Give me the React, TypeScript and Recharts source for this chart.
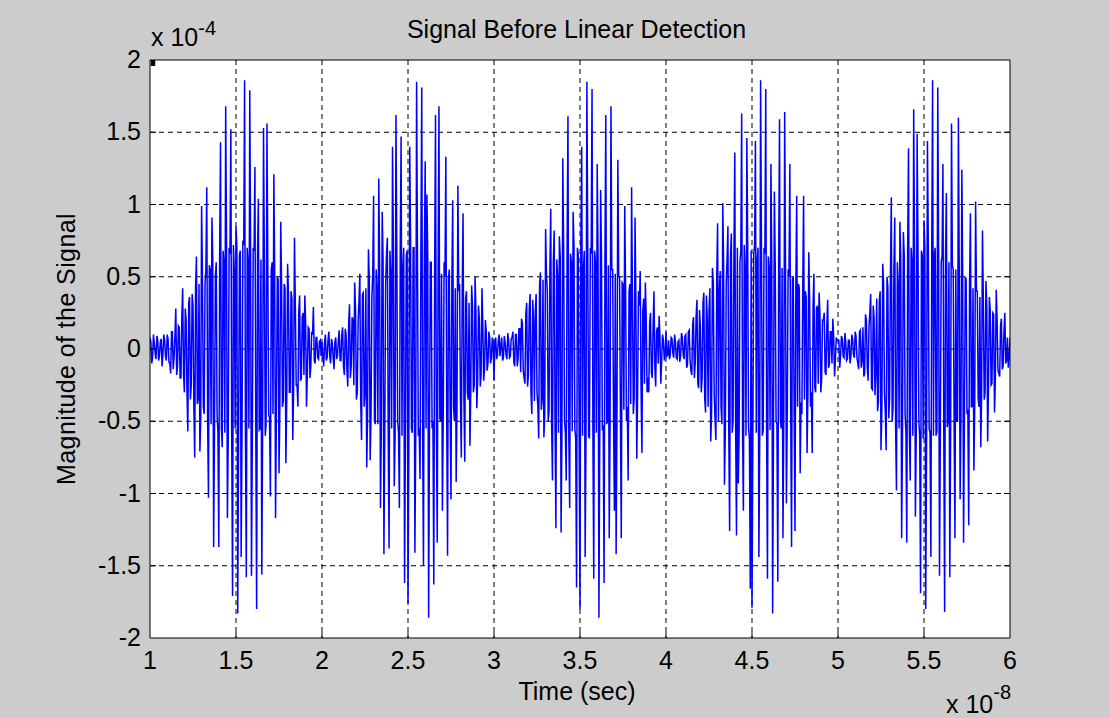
import React from 'react';
import { LineChart, Line, XAxis, YAxis, CartesianGrid } from 'recharts';

// Time axis in units of 1e-8 s, magnitude in units of 1e-4
const startTime = 1;
const sampleStep = 0.01;

// Main samples (spikes), one per sampleStep
const burst1 = [
  0.08, -0.10, 0.10, -0.03, 0.09, -0.08, 0.05, -0.12, 0.10, -0.05,
  0.10, -0.09, -0.17, 0.12, -0.06, 0.28, -0.12, 0.15, -0.20, 0.42,
  -0.30, 0.20, -0.57, 0.36, -0.25, 0.30, -0.75, 0.64, -0.35, -0.71,
  0.99, -0.40, 0.45, 1.12, -1.03, 0.55, 0.91, -1.37, 0.50, -0.45,
  -1.37, 1.43, -0.68, 0.60, 1.68, -1.17, 0.70, 1.52, -1.71, 0.55,
  0.85, -1.83, 0.65, -1.44, 0.75, 1.86, -1.58, 0.60, 1.79, -1.57,
  0.70, 1.26, -1.80, 1.04, -0.55, -1.56, 1.53, -0.60, 1.56, -0.45,
  -1.02, 0.60, 1.21, -1.17, 0.50, -0.86, 0.88, -0.40, 0.45, -0.79,
  0.59, -0.30, 0.40, -0.63, 0.77, -0.25, -0.40, 0.37, -0.20, 0.25,
  0.37, -0.40, 0.15, -0.20, 0.12, 0.29, -0.10, 0.08, -0.07, 0.06,
];

const burst2 = [
  0.05, -0.12, 0.10, -0.06, 0.12, -0.10, 0.04, -0.14, 0.08, -0.05,
  0.13, -0.08, 0.15, -0.18, 0.10, -0.26, 0.31, -0.12, 0.20, 0.46,
  -0.35, 0.18, 0.52, -0.63, 0.39, -0.30, -0.82, 0.69, -0.77, 0.35,
  1.06, -0.52, 0.40, 1.18, -1.10, 0.95, -1.42, 0.45, 0.77, -1.38,
  0.50, 1.40, -0.95, 1.62, -0.50, -1.10, 1.47, 0.55, -1.62, 0.65,
  -1.76, 1.40, -0.55, 0.70, -1.41, 1.85, -0.60, -0.90, 1.81, -1.50,
  1.30, 1.07, -1.86, 0.60, -0.55, -1.63, 1.62, -1.34, 1.68, -0.50,
  -1.12, 0.60, 1.33, -1.43, 0.55, -1.04, 1.03, -0.50, -0.92, 1.13,
  0.45, -0.75, 0.94, -0.78, 0.40, -0.35, -0.67, 0.44, -0.30, 0.50,
  -0.41, 0.30, -0.26, 0.42, -0.22, 0.20, -0.15, 0.12, -0.10, 0.08,
];

const burst3 = [
  -0.22, 0.08, -0.05, 0.10, 0.02, -0.08, 0.09, -0.04, 0.11, -0.06,
  0.07, 0.12, -0.12, 0.10, -0.07, 0.14, 0.21, -0.15, -0.24, 0.32,
  -0.18, 0.38, -0.45, 0.20, 0.26, -0.30, -0.62, 0.53, -0.35, -0.61,
  0.83, 0.40, -0.43, 0.97, -0.91, 0.82, -1.24, 0.50, 0.78, -1.27,
  1.32, -0.50, -0.91, 1.61, -1.10, 0.60, 0.95, -0.55, -1.65, 0.65,
  -1.80, 1.40, 0.55, -1.44, 1.85, -0.60, 0.70, 1.80, -1.59, 0.60,
  1.28, -1.86, 1.10, -0.55, -1.62, 1.62, -0.50, -1.31, 1.68, 0.55,
  -1.12, -1.42, 1.31, 0.50, -1.31, 0.45, 0.99, -0.50, -0.91, 0.45,
  1.12, -0.45, 0.91, -0.76, 0.40, 0.54, -0.72, 0.35, 0.46, -0.30,
  -0.30, 0.25, -0.20, 0.40, -0.26, 0.15, 0.23, -0.24, 0.10, -0.08,
];

const burst4 = [
  0.12, -0.04, -0.07, 0.08, -0.03, 0.10, -0.06, 0.05, -0.09, 0.11,
  -0.04, 0.09, -0.13, 0.12, -0.08, -0.18, 0.22, -0.10, 0.34, -0.27,
  0.15, -0.20, 0.39, -0.44, 0.20, 0.26, -0.64, 0.56, -0.30, -0.63,
  0.87, 0.40, -0.40, 1.01, -0.94, 0.45, 0.85, -1.26, 0.80, -0.50,
  1.36, -1.29, -0.93, 0.60, 1.63, -1.12, 0.55, 1.46, -0.55, -1.66,
  -1.79, 0.65, 1.44, 0.60, -1.44, 1.86, -0.60, 0.70, 1.80, -1.59,
  0.55, 1.28, -1.83, 1.09, -0.50, -1.61, 1.59, -0.55, -1.31, 1.64,
  -1.07, 0.55, 1.28, -1.37, 0.50, -1.26, 1.06, 0.45, -0.86, -0.45,
  1.06, 0.40, -0.72, 0.67, -0.40, -0.72, 0.52, -0.30, 0.30, 0.39,
  -0.30, 0.20, 0.25, -0.18, 0.34, -0.10, 0.12, 0.21, -0.19, 0.08,
];

const burst5 = [
  0.06, -0.13, 0.09, -0.05, 0.11, -0.08, 0.06, -0.10, 0.10, -0.04,
  0.12, -0.06, -0.14, 0.13, -0.08, -0.19, 0.24, -0.12, 0.15, 0.38,
  -0.28, 0.21, -0.15, -0.43, 0.33, -0.70, 0.59, -0.30, -0.70, 0.43,
  -0.35, 1.05, -0.40, 0.91, -0.98, 0.45, 0.88, -1.31, 0.81, -0.45,
  -1.34, 1.39, -0.91, 0.60, 1.66, -1.16, 1.49, -0.50, -1.69, 0.65,
  0.89, -1.80, 1.44, -0.55, -1.44, 1.86, 0.65, -0.60, 1.81, -1.57,
  0.60, 1.28, -1.82, 1.08, -0.50, -1.58, 1.56, 0.55, -1.31, -0.50,
  1.60, -1.04, 1.24, -1.34, 0.50, -0.45, -1.22, 0.94, -0.40, -0.84,
  1.02, 0.40, -0.40, -0.68, 0.82, -0.35, 0.47, -0.64, 0.36, -0.25,
  0.25, -0.44, 0.41, -0.15, -0.19, 0.21, -0.12, 0.25, -0.08, -0.13,
  0.08,
];

// In-between samples (the dense inner band), half a step after each main sample
const band1 = [
  0.05, -0.06, 0.04, -0.07, 0.06, -0.05, 0.07, -0.04, 0.06, -0.08,
  0.07, -0.10, 0.12, -0.14, 0.10, -0.18, 0.16, -0.20, 0.22, -0.18,
  0.28, -0.30, 0.32, -0.35, 0.38, -0.40, 0.42, -0.38, 0.45, -0.48,
  0.50, -0.45, 0.55, -0.50, 0.58, -0.52, 0.62, -0.55, 0.60, -0.58,
  0.65, -0.55, 0.68, -0.58, 0.70, -0.60, 0.66, -0.57, 0.72, -0.55,
  0.70, -0.60, 0.68, -0.56, 0.72, -0.58, 0.70, -0.55, 0.66, -0.60,
  0.68, -0.54, 0.64, -0.56, 0.62, -0.50, 0.60, -0.52, 0.58, -0.48,
  0.55, -0.45, 0.52, -0.42, 0.48, -0.40, 0.45, -0.36, 0.42, -0.34,
  0.38, -0.30, 0.35, -0.28, 0.30, -0.25, 0.26, -0.22, 0.22, -0.18,
  0.18, -0.15, 0.14, -0.12, 0.10, -0.08, 0.08, -0.06, 0.05, -0.05,
];

const band2 = [
  -0.06, 0.05, -0.08, 0.06, -0.05, 0.07, -0.06, 0.05, -0.07, 0.06,
  -0.08, 0.10, -0.12, 0.14, -0.15, 0.18, -0.20, 0.22, -0.25, 0.28,
  -0.30, 0.33, -0.36, 0.38, -0.40, 0.42, -0.45, 0.48, -0.46, 0.52,
  -0.50, 0.55, -0.52, 0.60, -0.55, 0.62, -0.56, 0.65, -0.58, 0.68,
  -0.55, 0.70, -0.60, 0.66, -0.58, 0.72, -0.60, 0.70, -0.56, 0.68,
  -0.62, 0.72, -0.58, 0.70, -0.60, 0.66, -0.55, 0.68, -0.58, 0.64,
  -0.55, 0.62, -0.52, 0.60, -0.50, 0.58, -0.52, 0.55, -0.48, 0.52,
  -0.45, 0.50, -0.44, 0.48, -0.42, 0.45, -0.40, 0.42, -0.38, 0.40,
  -0.36, 0.38, -0.33, 0.35, -0.30, 0.32, -0.28, 0.30, -0.25, 0.26,
  -0.22, 0.20, -0.18, 0.16, -0.14, 0.12, -0.10, 0.08, -0.06, 0.05,
];

const band3 = [
  0.05, -0.07, 0.06, -0.05, 0.08, -0.06, 0.04, -0.07, 0.06, -0.05,
  0.08, -0.09, 0.10, -0.12, 0.14, -0.16, 0.18, -0.20, 0.24, -0.26,
  0.28, -0.30, 0.34, -0.36, 0.38, -0.40, 0.44, -0.42, 0.48, -0.46,
  0.52, -0.50, 0.55, -0.52, 0.60, -0.55, 0.62, -0.58, 0.64, -0.56,
  0.68, -0.58, 0.70, -0.60, 0.66, -0.57, 0.72, -0.62, 0.70, -0.58,
  0.72, -0.60, 0.68, -0.58, 0.70, -0.62, 0.66, -0.56, 0.68, -0.58,
  0.64, -0.55, 0.62, -0.54, 0.60, -0.52, 0.58, -0.50, 0.55, -0.48,
  0.52, -0.46, 0.50, -0.44, 0.46, -0.42, 0.44, -0.40, 0.40, -0.38,
  0.36, -0.34, 0.34, -0.30, 0.30, -0.28, 0.26, -0.24, 0.22, -0.20,
  0.18, -0.16, 0.15, -0.12, 0.12, -0.10, 0.08, -0.07, 0.06, -0.05,
];

const band4 = [
  -0.05, 0.06, -0.04, 0.07, -0.06, 0.05, -0.07, 0.06, -0.05, 0.08,
  -0.07, 0.10, -0.11, 0.13, -0.15, 0.17, -0.20, 0.22, -0.24, 0.27,
  -0.30, 0.32, -0.34, 0.37, -0.40, 0.42, -0.44, 0.46, -0.48, 0.50,
  -0.50, 0.54, -0.52, 0.58, -0.55, 0.62, -0.56, 0.64, -0.58, 0.66,
  -0.58, 0.70, -0.60, 0.68, -0.57, 0.72, -0.60, 0.70, -0.62, 0.68,
  -0.60, 0.72, -0.58, 0.70, -0.60, 0.68, -0.56, 0.66, -0.58, 0.64,
  -0.56, 0.62, -0.54, 0.60, -0.52, 0.58, -0.50, 0.56, -0.48, 0.54,
  -0.46, 0.50, -0.44, 0.48, -0.42, 0.45, -0.40, 0.42, -0.37, 0.40,
  -0.35, 0.36, -0.32, 0.34, -0.30, 0.30, -0.27, 0.28, -0.24, 0.24,
  -0.20, 0.20, -0.16, 0.15, -0.13, 0.12, -0.10, 0.08, -0.07, 0.06,
];

const band5 = [
  0.06, -0.05, 0.07, -0.06, 0.05, -0.07, 0.06, -0.05, 0.07, -0.06,
  0.09, -0.10, 0.12, -0.13, 0.15, -0.17, 0.20, -0.22, 0.25, -0.27,
  0.30, -0.32, 0.35, -0.36, 0.40, -0.42, 0.45, -0.44, 0.50, -0.48,
  0.52, -0.50, 0.56, -0.54, 0.60, -0.55, 0.62, -0.56, 0.65, -0.58,
  0.68, -0.58, 0.70, -0.60, 0.70, -0.58, 0.72, -0.60, 0.68, -0.62,
  0.70, -0.60, 0.72, -0.58, 0.68, -0.60, 0.70, -0.57, 0.66, -0.58,
  0.64, -0.56, 0.62, -0.54, 0.60, -0.52, 0.58, -0.50, 0.55, -0.50,
  0.52, -0.47, 0.50, -0.45, 0.48, -0.42, 0.45, -0.40, 0.42, -0.38,
  0.40, -0.35, 0.36, -0.32, 0.33, -0.30, 0.30, -0.27, 0.27, -0.24,
  0.24, -0.20, 0.20, -0.17, 0.16, -0.14, 0.12, -0.10, 0.08, -0.07,
];

const xTicks = [1, 1.5, 2, 2.5, 3, 3.5, 4, 4.5, 5, 5.5, 6];
const yTicks = [-2, -1.5, -1, -0.5, 0, 0.5, 1, 1.5, 2];
const xGrid = [1.5, 2, 2.5, 3, 3.5, 4, 4.5, 5, 5.5];
const yGrid = [-1.5, -1, -0.5, 0, 0.5, 1, 1.5];
const xDomain = [1, 6];
const yDomain = [-2, 2];

const title = 'Signal Before Linear Detection';
const xLabel = 'Time (sec)';
const yLabel = 'Magnitude of the Signal';
const xExponent = '-8';
const yExponent = '-4';

const mainSamples = [...burst1, ...burst2, ...burst3, ...burst4, ...burst5];
const bandSamples = [...band1, ...band2, ...band3, ...band4, ...band5];

const data: { t: number; v: number }[] = [];
mainSamples.forEach((v, i) => {
  const t = startTime + i * sampleStep;
  data.push({ t: Number(t.toFixed(4)), v });
  if (i < bandSamples.length) {
    data.push({ t: Number((t + sampleStep / 2).toFixed(4)), v: bandSamples[i] });
  }
});

const FONT = '"Liberation Sans", Arial, Helvetica, sans-serif';
const TICK_LEN = 6;
const FS = 25;

const isXEnd = (v: number) => v === xDomain[0] || v === xDomain[1];
const isYEnd = (v: number) => v === yDomain[0] || v === yDomain[1];

const renderBottomTick = (props: any) => {
  const { x, y, payload } = props;
  return (
    <g key={`b-${payload.value}`}>
      {!isXEnd(payload.value) && (
        <line x1={x} x2={x} y1={y} y2={y - TICK_LEN} stroke="#000" strokeWidth={1} />
      )}
      <text x={x} y={y + 31} textAnchor="middle" fontSize={FS} fontFamily={FONT} fill="#000">
        {String(payload.value)}
      </text>
    </g>
  );
};

const renderTopTick = (props: any) => {
  const { x, y, payload } = props;
  if (isXEnd(payload.value)) return <g key={`t-${payload.value}`} />;
  return (
    <line
      key={`t-${payload.value}`}
      x1={x}
      x2={x}
      y1={y}
      y2={y + TICK_LEN}
      stroke="#000"
      strokeWidth={1}
    />
  );
};

const renderLeftTick = (props: any) => {
  const { x, y, payload } = props;
  return (
    <g key={`l-${payload.value}`}>
      {!isYEnd(payload.value) && (
        <line x1={x} x2={x + TICK_LEN} y1={y} y2={y} stroke="#000" strokeWidth={1} />
      )}
      <text x={x - 9} y={y + 8} textAnchor="end" fontSize={FS} fontFamily={FONT} fill="#000">
        {String(payload.value)}
      </text>
    </g>
  );
};

const renderRightTick = (props: any) => {
  const { x, y, payload } = props;
  if (isYEnd(payload.value)) return <g key={`r-${payload.value}`} />;
  return (
    <line
      key={`r-${payload.value}`}
      x1={x}
      x2={x - TICK_LEN}
      y1={y}
      y2={y}
      stroke="#000"
      strokeWidth={1}
    />
  );
};

export default function App() {
  return (
    <div
      style={{
        position: 'absolute',
        left: 0,
        top: 0,
        width: 1110,
        height: 718,
        background: '#cccccc',
        overflow: 'hidden',
      }}
    >
      <LineChart
        width={1110}
        height={718}
        data={data}
        accessibilityLayer={false}
        margin={{ top: 50, right: 90, bottom: 50, left: 110 }}
      >
        <CartesianGrid horizontal={false} vertical={false} fill="#ffffff" fillOpacity={1} />
        <XAxis
          dataKey="t"
          type="number"
          domain={xDomain}
          ticks={xTicks}
          interval={0}
          allowDataOverflow
          height={30}
          tickSize={0}
          tickMargin={0}
          tickLine={false}
          axisLine={{ stroke: '#000', strokeWidth: 1 }}
          tick={renderBottomTick}
        />
        <XAxis
          xAxisId="top"
          orientation="top"
          type="number"
          domain={xDomain}
          ticks={xTicks}
          interval={0}
          allowDataOverflow
          height={10}
          tickSize={0}
          tickMargin={0}
          tickLine={false}
          axisLine={{ stroke: '#000', strokeWidth: 1 }}
          tick={renderTopTick}
        />
        <YAxis
          type="number"
          domain={yDomain}
          ticks={yTicks}
          interval={0}
          allowDataOverflow
          width={40}
          tickSize={0}
          tickMargin={0}
          tickLine={false}
          axisLine={{ stroke: '#000', strokeWidth: 1 }}
          tick={renderLeftTick}
        />
        <YAxis
          yAxisId="right"
          orientation="right"
          type="number"
          domain={yDomain}
          ticks={yTicks}
          interval={0}
          allowDataOverflow
          width={10}
          tickSize={0}
          tickMargin={0}
          tickLine={false}
          axisLine={{ stroke: '#000', strokeWidth: 1 }}
          tick={renderRightTick}
        />
        <Line
          type="linear"
          dataKey="v"
          stroke="#0000ff"
          strokeWidth={1.5}
          dot={false}
          activeDot={false}
          isAnimationActive={false}
        />
        <CartesianGrid
          stroke="#000000"
          strokeDasharray="5 4"
          strokeWidth={1}
          fill="none"
          horizontalValues={yGrid}
          verticalValues={xGrid}
        />
      </LineChart>
      <svg
        width={1110}
        height={718}
        style={{ position: 'absolute', left: 0, top: 0, pointerEvents: 'none' }}
        fontFamily={FONT}
        fill="#000"
      >
        <text x={576.5} y={38} textAnchor="middle" fontSize={FS}>
          {title}
        </text>
        <text
          transform="translate(75,349) rotate(-90)"
          textAnchor="middle"
          fontSize={FS}
          letterSpacing={0.4}
        >
          {yLabel}
        </text>
        <text x={577} y={700} textAnchor="middle" fontSize={FS}>
          {xLabel}
        </text>
        <text x={151} y={46} fontSize={FS}>
          x 10
          <tspan dy={-11} fontSize={20}>
            {yExponent}
          </tspan>
        </text>
        <text x={946} y={713} fontSize={FS}>
          x 10
          <tspan dy={-14} fontSize={20}>
            {xExponent}
          </tspan>
        </text>
      </svg>
    </div>
  );
}
